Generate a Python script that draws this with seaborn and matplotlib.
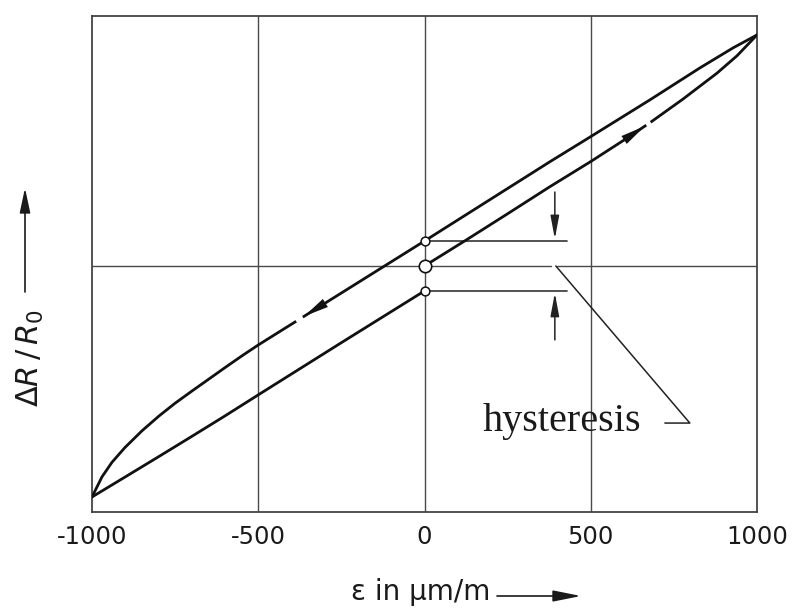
import numpy as np
import pandas as pd
import matplotlib
matplotlib.use("Agg")
import matplotlib.pyplot as plt
import seaborn as sns

# ---------------- data ----------------
x_ticks = [-1000, -500, 0, 500, 1000]
tick_labels = ["-1000", "-500", "0", "500", "1000"]

# unloading branch (from +1000 back to -1000)
upper_x = [1000, 928, 828, 678, 500, 377, 0, -250, -500, -549, -600, -648,
           -699, -750, -799, -850, -901, -940, -970, -1000]
upper_y = [1.0, 0.944, 0.857, 0.719, 0.560, 0.451, 0.108, -0.117, -0.342,
           -0.389, -0.440, -0.489, -0.541, -0.594, -0.650, -0.714, -0.786,
           -0.850, -0.913, -1.0]

# loading branch from -1000 up to 0
lower_left_x = [-1000, -901, -799, -699, -600, -500, -250, 0]
lower_left_y = [-1.0, -0.914, -0.825, -0.737, -0.649, -0.558, -0.332, -0.108]

# first loading from 0 up to +1000
lower_right_x = [0, 125, 250, 377, 500, 600, 678, 777, 880, 940, 1000]
lower_right_y = [0.0, 0.112, 0.226, 0.343, 0.452, 0.545, 0.620, 0.722,
                 0.835, 0.910, 1.0]

hysteresis_y = [0.108, 0.0, -0.108]   # marked points at eps = 0

# ---------------- figure ----------------
sns.set_theme(style="white")
plt.rcParams["font.family"] = ["DejaVu Sans"]
plt.rcParams["mathtext.fontset"] = "dejavusans"

fig = plt.figure(figsize=(7.92, 6.12), dpi=100)
ax = fig.add_axes([92 / 792, 1 - 512 / 612, (757 - 92) / 792, (512 - 16) / 612])

df = pd.concat([
    pd.DataFrame({"x": upper_x, "y": upper_y, "branch": "upper"}),
    pd.DataFrame({"x": lower_left_x, "y": lower_left_y, "branch": "lower_left"}),
    pd.DataFrame({"x": lower_right_x, "y": lower_right_y, "branch": "lower_right"}),
], ignore_index=True)

grid_c = "#4a4a4a"
# grid lines
for xv in x_ticks[1:-1]:
    ax.axvline(xv, color=grid_c, lw=1.0, zorder=1)
ax.plot([-1000, 380], [0, 0], color=grid_c, lw=1.0, zorder=1)
ax.plot([398, 1000], [0, 0], color=grid_c, lw=1.0, zorder=1)

sns.lineplot(data=df, x="x", y="y", hue="branch", units="branch",
             estimator=None, sort=False, legend=False, ax=ax,
             palette={"upper": "#111111", "lower_left": "#111111",
                      "lower_right": "#111111"},
             linewidth=2.0, zorder=3)

ax.set_xlim(-1000, 1000)
ax.set_ylim(-1.065, 1.082)
ax.set_xticks(x_ticks)
ax.set_xticklabels(tick_labels, fontsize=17.5, color="#1a1a1a")
ax.set_yticks([])
ax.tick_params(axis="x", length=0, pad=9)
ax.set_xlabel("")
ax.set_ylabel("")
for sp in ax.spines.values():
    sp.set_color("#444444")
    sp.set_linewidth(1.3)

# direction arrows on curves
ux = np.array(upper_x[::-1], dtype=float)
uy = np.array(upper_y[::-1], dtype=float)
rx = np.array(lower_right_x, dtype=float)
ry = np.array(lower_right_y, dtype=float)

def head(ax, tip, base):
    ax.annotate("", xy=tip, xytext=base,
                arrowprops=dict(arrowstyle="-|>,head_length=18,head_width=3.4",
                                mutation_scale=1, color="#111111", lw=0.01,
                                shrinkA=0, shrinkB=0), zorder=5)

# upper branch arrow, pointing to the left
t_x = -362
head(ax, (t_x, np.interp(t_x, ux, uy)), (t_x + 60, np.interp(t_x + 60, ux, uy)))
gx = np.linspace(-386, -366, 5)
ax.plot(gx, np.interp(gx, ux, uy), color="white", lw=3.5, zorder=4,
        solid_capstyle="butt")
# lower right arrow, pointing up-right
t_x = 663
head(ax, (t_x, np.interp(t_x, rx, ry)), (t_x - 60, np.interp(t_x - 60, rx, ry)))
gx = np.linspace(667, 680, 5)
ax.plot(gx, np.interp(gx, rx, ry), color="white", lw=3.5, zorder=4,
        solid_capstyle="butt")

# hysteresis markers
ax.scatter([0, 0], [hysteresis_y[0], hysteresis_y[2]], s=40, facecolor="white",
           edgecolor="#111111", linewidth=1.1, zorder=6)
ax.scatter([0], [hysteresis_y[1]], s=80, facecolor="white",
           edgecolor="#111111", linewidth=1.2, zorder=6)

# horizontal extension lines
ax.plot([0, 429], [hysteresis_y[0]] * 2, color="#333333", lw=1.2, zorder=2)
ax.plot([0, 429], [hysteresis_y[2]] * 2, color="#333333", lw=1.2, zorder=2)

# dimension arrows
dim_kw = dict(arrowstyle="-|>,head_length=14,head_width=2.6", mutation_scale=1,
              color="#222222", lw=1.1, shrinkA=0, shrinkB=0)
ax.annotate("", xy=(392, 0.117), xytext=(392, 0.32), arrowprops=dim_kw)
ax.annotate("", xy=(392, -0.117), xytext=(392, -0.32), arrowprops=dim_kw)

# leader line to label
ax.plot([395, 798, 723], [0, -0.680, -0.680], color="#222222", lw=1.1,
        zorder=2, clip_on=False)
ax.text(414, -0.675, "hysteresis", ha="center", va="center", fontsize=29,
        family=["Liberation Serif", "DejaVu Serif"], color="#1a1a1a",
        zorder=7)

# axis labels with arrows (figure pixel coordinates)
fig.text(30 / 792, 1 - 358 / 612, r"$\Delta R\,/\,R_0$", rotation=90,
         ha="center", va="center", fontsize=22, color="#1a1a1a")
ax.annotate("", xy=(25, 612 - 188), xytext=(25, 612 - 292),
            xycoords="figure pixels", textcoords="figure pixels",
            arrowprops=dict(arrowstyle="-|>,head_length=15,head_width=3.2",
                            mutation_scale=1, color="#1a1a1a", lw=1.2,
                            shrinkA=0, shrinkB=0), annotation_clip=False)

fig.text(490 / 792, 1 - 592 / 612, "ε in μm/m", ha="right", va="center",
         fontsize=20, color="#1a1a1a")
ax.annotate("", xy=(581, 612 - 596), xytext=(497, 612 - 596),
            xycoords="figure pixels", textcoords="figure pixels",
            arrowprops=dict(arrowstyle="-|>,head_length=17,head_width=3.4",
                            mutation_scale=1, color="#1a1a1a", lw=1.2,
                            shrinkA=0, shrinkB=0), annotation_clip=False)

fig.savefig("out.png", dpi=100, facecolor="white")
